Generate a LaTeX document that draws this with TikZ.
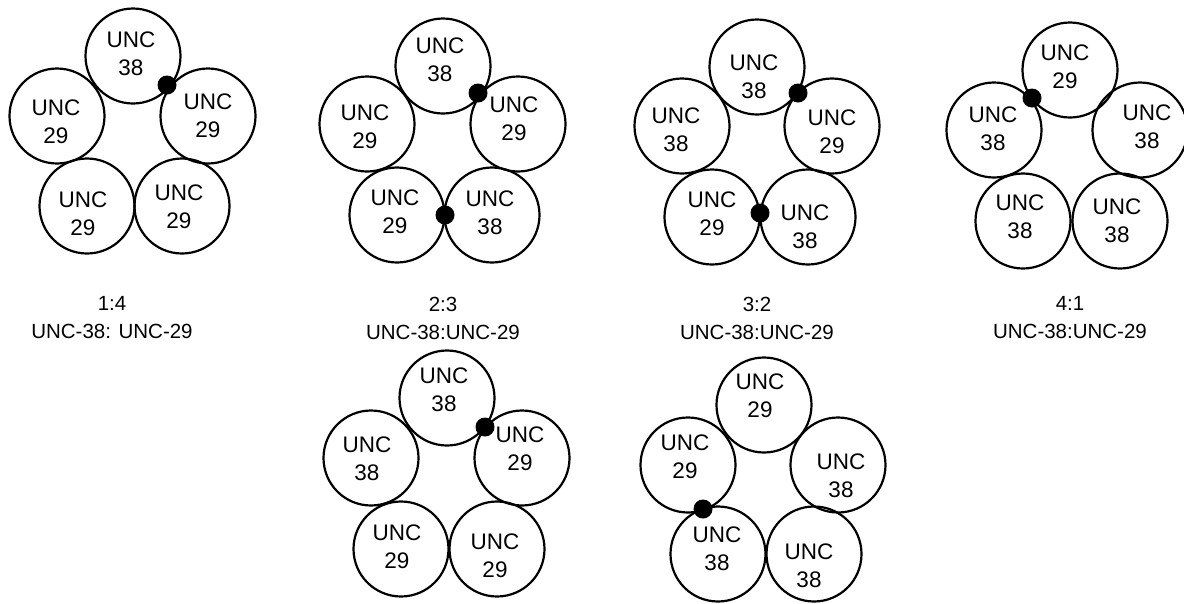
\documentclass[tikz,border=0pt]{standalone}
\usepackage{fontspec}
\setmainfont{Liberation Sans}
\begin{document}
\begin{tikzpicture}[x=1pt,y=-1pt,
  ring/.style={circle,draw=black,line width=2.2pt,minimum size=95pt,inner sep=0pt},
  unctext/.style={align=center,inner sep=0pt,font=\fontsize{22.5}{28}\selectfont},
  blob/.style={circle,fill=black,minimum size=19pt,inner sep=0pt},
  ratio/.style={align=center,inner sep=0pt,font=\fontsize{20.5}{28}\selectfont}]
\useasboundingbox (0,0) rectangle (1184,603);
\newcommand{\uncring}[6]{%
  \node[ring] (#1) at (#2,#3) {};
  \node[unctext] (#1-t) at ([shift={(#5,#6)}]#1.center) {UNC\\#4};}
% group 1
\uncring{a1}{133}{56}{38}{-2}{-2}
\uncring{a2}{57}{116}{29}{-1}{6}
\uncring{a3}{208}{116}{29}{0}{0}
\uncring{a4}{87}{206}{29}{-4}{8}
\uncring{a5}{182}{206}{29}{-3}{1}
\node[blob] (ad1) at (167,85) {};
\node[ratio] (al) at (112,318) {1:4\\UNC-38: UNC-29};
% group 2
\uncring{b1}{443}{66}{38}{-3}{-6}
\uncring{b2}{367}{124}{29}{-2}{3}
\uncring{b3}{518}{124}{29}{-4}{-5}
\uncring{b4}{397}{215}{29}{-2}{-3}
\uncring{b5}{492}{215}{38}{-2}{-2}
\node[blob] (bd1) at (478,93) {};
\node[blob] (bd2) at (445,215) {};
\node[ratio] (bl) at (443,318) {2:3\\UNC-38:UNC-29};
% group 3
\uncring{c1}{757}{67}{38}{-3}{10}
\uncring{c2}{682}{126}{38}{-6}{4}
\uncring{c3}{832}{126}{29}{0}{6}
\uncring{c4}{712}{217}{29}{0}{-3}
\uncring{c5}{808}{217}{38}{-3}{10}
\node[blob] (cd1) at (798,93) {};
\node[blob] (cd2) at (760,213) {};
\node[ratio] (cl) at (757,318) {3:2\\UNC-38:UNC-29};
% group 4
\uncring{d1}{1070}{70}{29}{-5}{-3}
\uncring{d2}{994}{130}{38}{-1}{-1}
\uncring{d3}{1140}{130}{38}{7}{-3}
\uncring{d4}{1023}{221}{38}{-3}{-4}
\uncring{d5}{1120}{221}{38}{-3}{0}
\node[blob] (dd1) at (1032,98) {};
\node[ratio] (dl) at (1070,318) {4:1\\UNC-38:UNC-29};
% group 5
\uncring{e1}{447}{398}{38}{-3}{-8}
\uncring{e2}{371}{458}{38}{-4}{1}
\uncring{e3}{522}{458}{29}{-2}{-9}
\uncring{e4}{401}{549}{29}{-4}{-2}
\uncring{e5}{497}{549}{29}{-2}{7}
\node[blob] (ed1) at (485,427) {};
% group 6
\uncring{f1}{764}{405}{29}{-4}{-9}
\uncring{f2}{688}{465}{29}{-3}{-8}
\uncring{f3}{838}{465}{38}{3}{11}
\uncring{f4}{718}{554}{38}{-1}{-5}
\uncring{f5}{814}{554}{38}{-5}{12}
\node[blob] (fd1) at (703,509) {};
\end{tikzpicture}
\end{document}
